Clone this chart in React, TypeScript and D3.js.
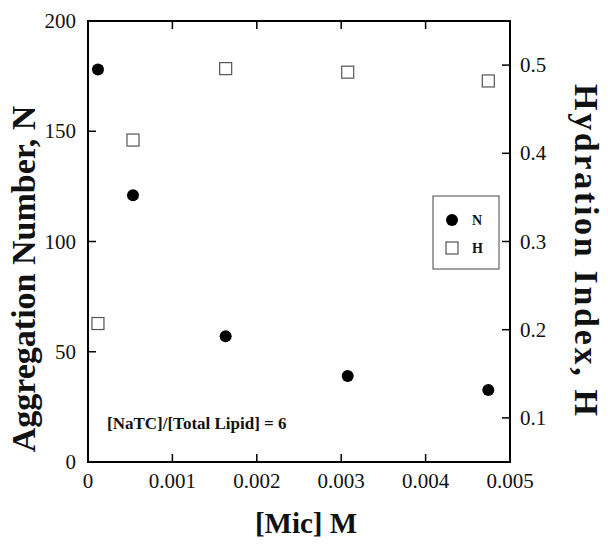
import * as d3 from 'd3'

// [Mic] M vs aggregation number N (left) and hydration index H (right)
const micConc = [0.000118, 0.000533, 0.001631, 0.003077, 0.004743]
const aggN = [178, 121, 57, 39, 32.7]
const hydH = [0.207, 0.415, 0.496, 0.492, 0.482]

const xTicks = [0, 0.001, 0.002, 0.003, 0.004, 0.005]
const nTicks = [0, 50, 100, 150, 200]
const hTicks = [0.1, 0.2, 0.3, 0.4, 0.5]

const W = 608, H = 544
const L = 88, R = 510, T = 21, B = 462
const FONT = 'Liberation Serif'
const TL = 8
const SQ = 12

export default function App() {
  const x = d3.scaleLinear().domain([0, 0.005]).range([L, R])
  const yN = d3.scaleLinear().domain([0, 200]).range([B, T])
  const yH = d3.scaleLinear().domain([0.05, 0.55]).range([B, T])

  return (
    <div style={{ position: 'absolute', left: 0, top: 0 }}>
      <svg width={W} height={H} style={{ display: 'block', background: '#fff' }} fontFamily={FONT}>
        {/* x ticks */}
        {xTicks.map(v => (
          <g key={'x' + v}>
            {v > 0 && v < 0.005 && (
              <>
                <line x1={x(v)} x2={x(v)} y1={B} y2={B - TL} stroke="#000" strokeWidth={1.5} />
                <line x1={x(v)} x2={x(v)} y1={T} y2={T + TL} stroke="#000" strokeWidth={1.5} />
              </>
            )}
            <text x={x(v)} y={B + 26} textAnchor="middle" fontSize={21} fill="#111" fontFamily={FONT}>
              {v === 0 ? '0' : d3.format('.3f')(v)}
            </text>
          </g>
        ))}

        {/* left axis */}
        {nTicks.map(v => (
          <g key={'n' + v}>
            {v > 0 && v < 200 && <line x1={L} x2={L + TL} y1={yN(v)} y2={yN(v)} stroke="#000" strokeWidth={1.5} />}
            <text x={L - 12} y={yN(v) + 7} textAnchor="end" fontSize={21} fill="#111" fontFamily={FONT}>{v}</text>
          </g>
        ))}

        {/* right axis */}
        {hTicks.map(v => (
          <g key={'h' + v}>
            <line x1={R} x2={R - TL} y1={yH(v)} y2={yH(v)} stroke="#000" strokeWidth={1.5} />
            <text x={R + 10} y={yH(v) + 7} fontSize={21} fill="#111" fontFamily={FONT}>{d3.format('.1f')(v)}</text>
          </g>
        ))}

        <rect x={L} y={T} width={R - L} height={B - T} fill="none" stroke="#000" strokeWidth={2} />

        {/* N: filled circles */}
        {micConc.map((d, i) => (
          <circle key={'c' + i} cx={x(d)} cy={yN(aggN[i])} r={6} fill="#000" />
        ))}
        {/* H: open squares */}
        {micConc.map((d, i) => (
          <rect key={'s' + i} x={x(d) - SQ / 2} y={yH(hydH[i]) - SQ / 2} width={SQ} height={SQ}
            fill="#fff" stroke="#555" strokeWidth={1.2} />
        ))}

        {/* legend */}
        <rect x={433} y={196} width={66} height={73} fill="#fff" stroke="#444" strokeWidth={1} />
        <circle cx={452} cy={220} r={6} fill="#000" />
        <rect x={446} y={242} width={SQ} height={SQ} fill="#fff" stroke="#555" strokeWidth={1.2} />
        <text x={472} y={225} fontWeight="bold" fontSize={14} fill="#111" fontFamily={FONT}>N</text>
        <text x={472} y={253} fontWeight="bold" fontSize={14} fill="#111" fontFamily={FONT}>H</text>

        <text x={107} y={429} fontWeight="bold" fontSize={17} fill="#111" fontFamily={FONT}>
          [NaTC]/[Total Lipid] = 6
        </text>

        {/* axis titles */}
        <text x={306} y={533} textAnchor="middle" fontWeight="bold" fontSize={29} fill="#111" fontFamily={FONT}>[Mic] M</text>
        <text transform="translate(35,279) rotate(-90)" textAnchor="middle" fontWeight="bold" fontSize={34}
          fill="#111" fontFamily={FONT}>Aggregation Number, N</text>
        <text transform="translate(575,250) rotate(90)" textAnchor="middle" fontWeight="bold" fontSize={34}
          fill="#111" fontFamily={FONT} textLength={332} lengthAdjust="spacing">Hydration Index, H</text>
      </svg>
    </div>
  )
}
